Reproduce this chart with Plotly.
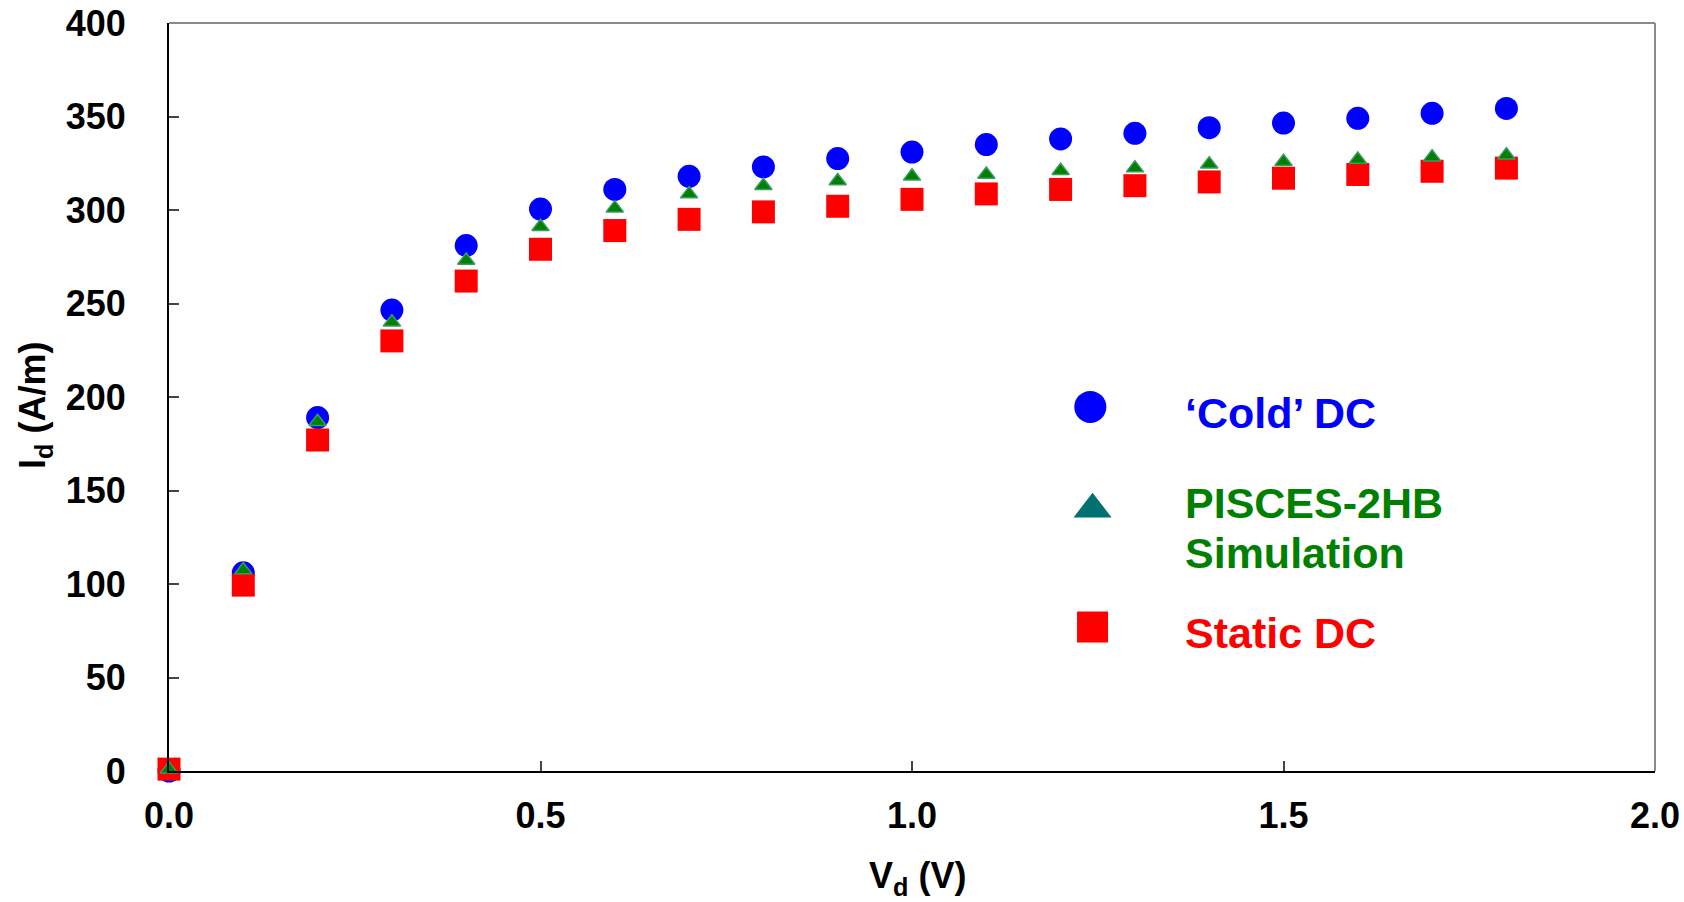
import plotly.graph_objects as go

vd = [0.0, 0.1, 0.2, 0.3, 0.4, 0.5, 0.6, 0.7, 0.8, 0.9, 1.0, 1.1, 1.2, 1.3, 1.4, 1.5, 1.6, 1.7, 1.8]
cold_dc = [0, 106, 189, 246.5, 281, 300.5, 311, 318, 323, 327.5, 331, 335, 338, 341, 344, 346.5, 349, 351.7, 354.3]
pisces = [1, 107.5, 186.8, 240, 273, 291, 301, 308.5, 313, 315.5, 318, 319, 321, 322.4, 324.5, 325.8, 327, 328.2, 329.3]
static_dc = [1, 99.4, 177, 230, 262, 279, 289, 295, 299, 302, 305.7, 308.6, 311, 313, 315, 317, 319, 320.7, 322.4]

x_ticks = [0.0, 0.5, 1.0, 1.5, 2.0]
y_ticks = [0, 50, 100, 150, 200, 250, 300, 350, 400]

legend_names = ["\u2018Cold\u2019 DC", "PISCES-2HB<br>Simulation", "Static DC"]

FONT = "Liberation Sans, Arial, sans-serif"
BLUE, GREEN, RED, TEAL = "#0000FF", "#008000", "#FF0000", "#007070"

fig = go.Figure()
fig.add_trace(go.Scatter(x=vd, y=cold_dc, mode="markers", cliponaxis=False,
                         marker=dict(symbol="circle", size=23, color=BLUE, line=dict(width=0))))
fig.add_trace(go.Scatter(x=vd, y=static_dc, mode="markers", cliponaxis=False,
                         marker=dict(symbol="square", size=23, color=RED, line=dict(width=0))))
fig.add_trace(go.Scatter(x=vd, y=pisces, mode="markers", cliponaxis=False,
                         marker=dict(symbol="triangle-up", size=15, color=GREEN,
                                     line=dict(width=1.5, color="#3a9a60"))))

# custom legend keys
fig.add_trace(go.Scatter(x=[1.240], y=[194.7], mode="markers",
                         marker=dict(symbol="circle", size=32, color=BLUE)))
fig.add_trace(go.Scatter(x=[1.243], y=[140], mode="markers",
                         marker=dict(symbol="triangle-up", size=33, color=TEAL)))
fig.add_trace(go.Scatter(x=[1.243], y=[77], mode="markers",
                         marker=dict(symbol="square", size=31, color=RED)))

# legend texts (one annotation per text line)
legend_line_y = [[191.7], [143.3, 116.8], [73.8]]
for name, ys, col in zip(legend_names, legend_line_y, [BLUE, GREEN, RED]):
    for line, y in zip(name.split("<br>"), ys):
        fig.add_annotation(x=1.365, y=y, xref="x", yref="y", text="<b>%s</b>" % line,
                           showarrow=False, xanchor="left", yanchor="middle", align="left",
                           font=dict(family=FONT, size=43, color=col))

fig.add_annotation(x=0.5037, y=-0.1767, xref="paper", yref="paper",
                   text="<b>V<sub>d</sub> (V)</b>", showarrow=False,
                   font=dict(family=FONT, size=36, color="black"))
fig.add_annotation(x=-0.1067, y=0.4887, xref="paper", yref="paper", textangle=-90,
                   text="<b>I<sub>d</sub> (A/m)</b>", showarrow=False,
                   font=dict(family=FONT, size=36, color="black"))

# top and right frame (gray)
fig.add_shape(type="line", xref="paper", yref="paper", x0=0, x1=1, y0=1, y1=1,
              line=dict(color="#8a8a8a", width=2))
fig.add_shape(type="line", xref="paper", yref="paper", x0=1, x1=1, y0=0, y1=1,
              line=dict(color="#8a8a8a", width=2))

fig.update_layout(
    width=1684, height=902,
    margin=dict(l=169, r=29, t=23, b=131, autoexpand=False),
    paper_bgcolor="white", plot_bgcolor="white",
    showlegend=False,
    font=dict(family=FONT, size=36, color="black"),
)
fig.update_xaxes(range=[0, 2.0], tickvals=x_ticks, ticktext=["<b>%.1f</b>" % v for v in x_ticks],
                 showgrid=False, zeroline=False, showline=True, linecolor="black", linewidth=2,
                 ticks="inside", ticklen=10, tickwidth=1.5, tickcolor="#444", automargin=False,
                 ticklabeloverflow="allow",
                 ticklabelstandoff=12, tickfont=dict(family=FONT, size=36, color="black"))
fig.update_yaxes(range=[0, 400], tickvals=y_ticks, ticktext=["<b>%d</b>" % v for v in y_ticks],
                 showgrid=False, zeroline=False, showline=True, linecolor="black", linewidth=2,
                 ticks="inside", ticklen=10, tickwidth=1.5, tickcolor="#444", automargin=False,
                 ticklabeloverflow="allow",
                 ticklabelstandoff=34, tickfont=dict(family=FONT, size=36, color="black"))

fig.write_html("out.html", config={"displayModeBar": False},
               post_script="document.body.style.margin='0';document.body.style.overflow='hidden';")
